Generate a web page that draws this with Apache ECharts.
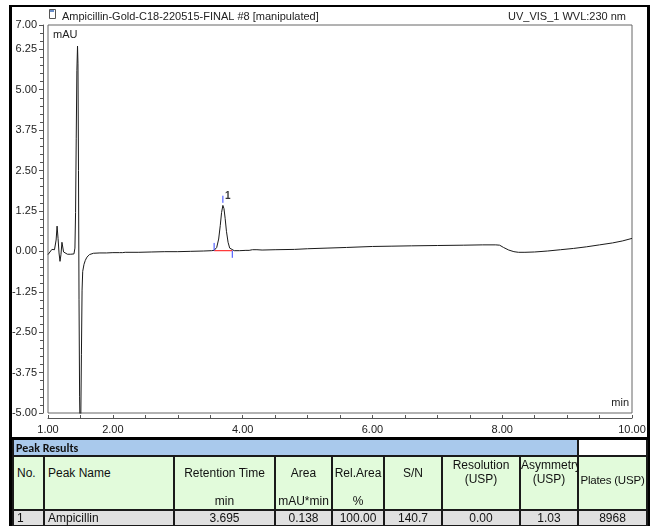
<!DOCTYPE html>
<html>
<head>
<meta charset="utf-8">
<script src="https://cdn.jsdelivr.net/npm/echarts@6/dist/echarts.min.js"></script>
<style>
  html, body { margin: 0; padding: 0; background: #fff; }
  #wrap { position: relative; width: 655px; height: 526px; overflow: hidden; font-family: "Liberation Sans", Arial, sans-serif; }
  #chart { position: absolute; left: 0; top: 0; width: 655px; height: 526px; }
  #frame { position: absolute; left: 9px; top: 5px; width: 635px; height: 540px; border-left: 3px solid #000; border-right: 3px solid #000; border-top: 2px solid #000; pointer-events: none; }
  #tbl { position: absolute; left: 12px; top: 437px; border-collapse: collapse; table-layout: fixed; font-family: "Liberation Sans", Arial, sans-serif; color: #111; }
  #tbl td { border: 2px solid #1a1a1a; padding: 0; overflow: visible; white-space: nowrap; }
  #tbl tr.pr td { height: 15px; }
  #tbl td.blue { background: #a9c9ec; font-family: Calibri, "Carlito", "Liberation Sans", sans-serif; font-weight: bold; font-size: 12px; padding-left: 2px; border-top: 3px solid #000; }
  #tbl td.white { background: #fff; border-top: 3px solid #000; }
  #tbl tr.hd td { height: 52px; background: #e2fbdb; position: relative; vertical-align: top; font-size: 12px; }
  #tbl tr.dt td { height: 14px; background: #e0e0e0; font-size: 12px; }
  .main { position: absolute; left: 0; right: 0; top: 9px; text-align: center; }
  .mainL { position: absolute; left: 3px; top: 9px; }
  .unit { position: absolute; left: 0; right: 0; bottom: 1px; text-align: center; }
  .two { position: absolute; left: 0; right: 0; top: 1px; text-align: center; line-height: 14px; }
  .mid { position: absolute; left: 0; right: 0; top: 17px; text-align: center; font-size: 11.5px; letter-spacing: -0.2px; }
</style>
</head>
<body>
<div id="wrap">
  <div id="chart"></div>
  <div id="frame"></div>
  <table id="tbl"></table>
</div>
<script>
// ---------- data ----------
var chartTitle = 'Ampicillin-Gold-C18-220515-FINAL #8 [manipulated]';
var channelLabel = 'UV_VIS_1 WVL:230 nm';

var timeMin = [1.000,1.030,1.060,1.080,1.100,1.125,1.140,1.155,1.170,1.185,1.200,1.215,1.225,1.240,1.260,1.300,1.350,1.400,1.415,1.425,1.435,1.445,1.455,1.462,1.470,1.478,1.487,1.495,1.505,1.515,1.525,1.535,1.555,1.575,1.600,1.640,1.700,1.800,1.900,2.000,2.100,2.150,2.170,2.190,2.400,2.600,2.800,3.000,3.200,3.400,3.520,3.560,3.600,3.630,3.655,3.675,3.695,3.712,3.730,3.750,3.775,3.800,3.830,3.870,3.950,4.050,4.100,4.150,4.180,4.220,4.300,4.500,4.800,5.000,5.300,5.600,6.000,6.300,6.600,7.000,7.400,7.700,7.900,7.960,8.020,8.100,8.180,8.250,8.350,8.500,8.700,8.900,9.100,9.300,9.500,9.700,9.850,10.000];
var signalMAU = [-0.10,-0.06,0.06,0.02,0.05,0.35,0.78,0.40,-0.05,-0.31,-0.10,0.28,0.22,-0.02,-0.08,-0.09,-0.09,-0.08,0.10,1.20,3.50,5.60,6.35,5.80,2.50,-1.50,-4.50,-5.60,-5.30,-3.20,-1.20,-0.62,-0.40,-0.28,-0.18,-0.10,-0.06,-0.05,-0.05,-0.04,-0.04,-0.04,0.00,-0.03,-0.03,-0.02,-0.01,-0.01,0.00,0.01,0.02,0.03,0.12,0.38,0.80,1.20,1.42,1.32,1.02,0.62,0.28,0.10,0.04,0.02,0.02,0.03,0.03,0.05,0.08,0.05,0.04,0.05,0.06,0.08,0.10,0.12,0.15,0.16,0.17,0.18,0.19,0.20,0.20,0.19,0.12,0.04,-0.01,-0.03,-0.03,-0.02,0.01,0.05,0.09,0.14,0.20,0.26,0.32,0.40];

var peakNumber = '1';
var peakApex = [3.695, 1.42];
var peakBaseline = [[3.56, 0.02], [3.84, 0.02]];
var peakStartMark = [[3.56, 0.02], [3.56, 0.26]];
var peakEndMark = [[3.84, 0.02], [3.84, -0.20]];
var peakApexMark = [[3.695, 1.50], [3.695, 1.72]];

var yTicks = { min: -5, max: 7, step: 1.25 };
var xTicks = { min: 1, max: 10, step: 0.5 };
var xLabelled = [1, 2, 4, 6, 8, 10];
var yUnit = 'mAU';
var xUnit = 'min';

var tableTitle = 'Peak Results';
var tableHeaders = ['No.', 'Peak Name', 'Retention Time', 'Area', 'Rel.Area', 'S/N', 'Resolution|(USP)', 'Asymmetry|(USP)', 'Plates (USP)'];
var tableUnits = ['', '', 'min', 'mAU*min', '%', '', '', '', ''];
var tableRow = ['1', 'Ampicillin', '3.695', '0.138', '100.00', '140.7', '0.00', '1.03', '8968'];
var colWidths = [31, 130, 101, 57, 52, 58, 78, 58, 69];

// ---------- table ----------
(function () {
  var t = document.getElementById('tbl');
  var html = '<colgroup>' + colWidths.map(function (w) { return '<col style="width:' + w + 'px">'; }).join('') + '</colgroup>';
  html += '<tr class="pr"><td class="blue" colspan="8">' + tableTitle + '</td><td class="white"></td></tr>';
  html += '<tr class="hd">';
  tableHeaders.forEach(function (h, i) {
    var inner;
    if (h.indexOf('|') >= 0) {
      var p = h.split('|');
      inner = '<div class="two">' + p[0] + '<br>' + p[1] + '</div>';
    } else if (i < 2) {
      inner = '<div class="mainL">' + h + '</div>';
    } else if (i === 8) {
      inner = '<div class="mid">' + h + '</div>';
    } else {
      inner = '<div class="main">' + h + '</div>';
    }
    if (tableUnits[i]) inner += '<div class="unit">' + tableUnits[i] + '</div>';
    html += '<td>' + inner + '</td>';
  });
  html += '</tr><tr class="dt">';
  tableRow.forEach(function (v, i) {
    html += '<td style="text-align:' + (i < 2 ? 'left;padding-left:3px' : 'center') + '">' + v + '</td>';
  });
  html += '</tr>';
  t.innerHTML = html;
})();

// ---------- chart ----------
var chart = echarts.init(document.getElementById('chart'), null, { renderer: 'canvas' });
var font = '"Liberation Sans", Arial, sans-serif';
var line = timeMin.map(function (t, i) { return [t, signalMAU[i]]; });

function seg(data, color, w) {
  return { type: 'line', data: data, symbol: 'none', silent: true, animation: false,
           lineStyle: { color: color, width: w || 1 }, z: 4 };
}

chart.setOption({
  animation: false,
  title: [
    { text: chartTitle, left: 57, top: 6, textStyle: { fontSize: 11, fontWeight: 'normal', fontFamily: font, color: '#222' } },
    { text: channelLabel, right: 24, top: 6, textStyle: { fontSize: 11, fontWeight: 'normal', fontFamily: font, color: '#222' } }
  ],
  grid: { left: 48, right: 23, top: 25, bottom: 113, show: true, borderColor: '#666', borderWidth: 1, backgroundColor: 'transparent' },
  xAxis: {
    type: 'value', min: xTicks.min, max: xTicks.max, interval: xTicks.step, offset: 5,
    axisLine: { show: true, onZero: false, lineStyle: { color: '#555', width: 1 } },
    axisTick: { show: true, inside: true, length: 3, lineStyle: { color: '#555' } },
    splitLine: { show: false },
    axisLabel: { color: '#222', fontSize: 11, fontFamily: font, margin: 6, showMinLabel: true, showMaxLabel: true,
      formatter: function (v) { return xLabelled.indexOf(v) >= 0 ? v.toFixed(2) : ''; } }
  },
  yAxis: {
    type: 'value', min: yTicks.min, max: yTicks.max, interval: yTicks.step, offset: 5,
    axisLine: { show: true, onZero: false, lineStyle: { color: '#555', width: 1 } },
    axisTick: { show: true, length: 4, lineStyle: { color: '#555' } },
    minorTick: { show: true, splitNumber: 5, length: 3, lineStyle: { color: '#555' } },
    splitLine: { show: false },
    axisLabel: { color: '#222', fontSize: 11, fontFamily: font, margin: 6, showMaxLabel: true,
      formatter: function (v) { return v.toFixed(2); } }
  },
  graphic: [
    { type: 'text', left: 53, top: 29, style: { text: yUnit, font: '11px ' + font, fill: '#222' } },
    { type: 'text', right: 26, top: 397, style: { text: xUnit, font: '11px ' + font, fill: '#222' } },
    { type: 'rect', left: 49, top: 9, shape: { width: 6, height: 9 }, style: { fill: '#fff', stroke: '#555', lineWidth: 1 } },
    { type: 'rect', left: 50, top: 10, shape: { width: 4, height: 2 }, style: { fill: '#6a8fc8' } }
  ],
  series: [
    { type: 'line', data: line, symbol: 'none', clip: true, animation: false, silent: true,
      lineStyle: { color: '#1a1a1a', width: 1 }, z: 3 },
    seg(peakBaseline, '#ff3b3b', 1.2),
    seg(peakStartMark, '#3344ff', 1),
    seg(peakEndMark, '#3344ff', 1),
    seg(peakApexMark, '#3344ff', 1),
    { type: 'scatter', data: [peakApex], symbolSize: 0, silent: true, animation: false,
      label: { show: true, formatter: peakNumber, position: 'top', distance: 4, offset: [5, 0],
               fontSize: 10, fontWeight: 'bold', color: '#000', fontFamily: font } }
  ]
});
</script>
</body>
</html>
